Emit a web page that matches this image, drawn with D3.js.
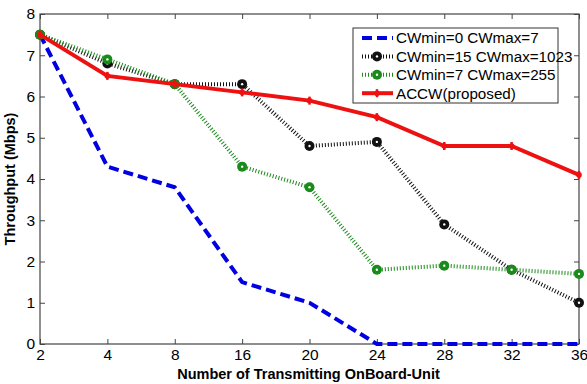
<!DOCTYPE html>
<html lang="en">
<head>
  <meta charset="UTF-8">
  <title>Throughput</title>
  <script src="https://d3js.org/d3.v7.min.js"></script>
  <style>
    body { margin: 0; background: #fff; }
    text { font-family: Arial, "Liberation Sans", sans-serif; }
  </style>
</head>
<body>
  <div id="chart"></div>
  <script>
    // Data
    const nodes = ["2", "4", "8", "16", "20", "24", "28", "32", "36"];
    const cw0_7 = [7.5, 4.3, 3.8, 1.5, 1.0, 0, 0, 0, 0];
    const cw15_1023 = [7.5, 6.8, 6.3, 6.3, 4.8, 4.9, 2.9, 1.8, 1.0];
    const cw7_255 = [7.5, 6.9, 6.3, 4.3, 3.8, 1.8, 1.9, 1.8, 1.7];
    const accw = [7.5, 6.5, 6.3, 6.1, 5.9, 5.5, 4.8, 4.8, 4.1];
    const yTicks = [0, 1, 2, 3, 4, 5, 6, 7, 8];

    const W = 587, H = 384;
    const margin = { top: 14, right: 8, bottom: 40, left: 40 };
    const width = W - margin.left - margin.right;
    const height = H - margin.top - margin.bottom;

    const svg = d3.select("#chart").append("svg")
      .attr("width", W).attr("height", H);
    const g = svg.append("g").attr("transform", `translate(${margin.left},${margin.top})`);

    const x = d3.scalePoint().domain(nodes).range([0, width]);
    const y = d3.scaleLinear().domain([0, 8]).range([height, 0]);

    // box
    g.append("rect").attr("width", width).attr("height", height)
      .attr("fill", "none").attr("stroke", "#444").attr("stroke-width", 1.2);

    // inward ticks on all sides (matlab style)
    const tickLen = 5;
    const axB = g.append("g").attr("transform", `translate(0,${height})`)
      .call(d3.axisBottom(x).tickSizeInner(-tickLen).tickSizeOuter(0).tickPadding(7));
    const axT = g.append("g")
      .call(d3.axisTop(x).tickSizeInner(-tickLen).tickSizeOuter(0).tickFormat(""));
    const axL = g.append("g")
      .call(d3.axisLeft(y).tickValues(yTicks).tickSizeInner(-tickLen).tickSizeOuter(0).tickPadding(5));
    const axR = g.append("g").attr("transform", `translate(${width},0)`)
      .call(d3.axisRight(y).tickValues(yTicks).tickSizeInner(-tickLen).tickSizeOuter(0).tickFormat(""));
    [axB, axT, axL, axR].forEach(a => {
      a.select(".domain").remove();
      a.selectAll("line").attr("stroke", "#444");
      a.selectAll("text").attr("font-size", 15.5).attr("fill", "#000")
        .style("font-family", "Arial, 'Liberation Sans', sans-serif");
    });
    axB.selectAll("text").attr("dy", "0.6em");

    const line = d3.line().x((d, i) => x(nodes[i])).y(d => y(d));

    const series = [
      { name: "CWmin=0 CWmax=7", values: cw0_7, color: "#0000e0", dash: "10,5", width: 4, marker: null },
      { name: "CWmin=15 CWmax=1023", values: cw15_1023, color: "#111", dash: "1,2", width: 4, marker: "circle" },
      { name: "CWmin=7 CWmax=255", values: cw7_255, color: "#1a8a1a", dash: "1,2", width: 4, marker: "circle" },
      { name: "ACCW(proposed)", values: accw, color: "#ee1111", dash: null, width: 4, marker: "plus" }
    ];

    function drawMarker(sel, s, cx, cy) {
      if (s.marker === "circle") {
        sel.append("circle").attr("cx", cx).attr("cy", cy).attr("r", 5)
          .attr("fill", s.color);
        sel.append("circle").attr("cx", cx).attr("cy", cy).attr("r", 1.2)
          .attr("fill", "#fff");
      } else if (s.marker === "plus") {
        sel.append("line").attr("x1", cx).attr("x2", cx).attr("y1", cy - 4).attr("y2", cy + 4)
          .attr("stroke", s.color).attr("stroke-width", 2.5);
        sel.append("circle").attr("cx", cx).attr("cy", cy).attr("r", 2.8).attr("fill", s.color);
      }
    }

    series.forEach(s => {
      g.append("path").datum(s.values)
        .attr("d", line).attr("fill", "none")
        .attr("stroke", s.color).attr("stroke-width", s.width)
        .attr("stroke-dasharray", s.dash);
      const mg = g.append("g");
      s.values.forEach((v, i) => drawMarker(mg, s, x(nodes[i]), y(v)));
    });

    // legend
    const lx = 313, ly = 14, lw = 205, lh = 75;
    const leg = g.append("g").attr("transform", `translate(${lx},${ly})`);
    leg.append("rect").attr("width", lw).attr("height", lh)
      .attr("fill", "#fff").attr("stroke", "#333").attr("stroke-width", 1);
    series.forEach((s, i) => {
      const yy = 10 + i * 18.4;
      leg.append("line").attr("x1", 9).attr("x2", 40).attr("y1", yy).attr("y2", yy)
        .attr("stroke", s.color).attr("stroke-width", s.width).attr("stroke-dasharray", s.dash);
      drawMarker(leg, s, 24, yy);
      leg.append("text").attr("x", 43).attr("y", yy).attr("dy", "0.35em")
        .attr("font-size", 15.2).text(s.name);
    });

    // axis titles
    svg.append("text").attr("x", margin.left + width / 2 - 1).attr("y", H - 5)
      .attr("text-anchor", "middle").attr("font-size", 14.5).attr("font-weight", "bold")
      .text("Number of Transmitting OnBoard-Unit");
    svg.append("text").attr("transform", `translate(15,${margin.top + height / 2}) rotate(-90)`)
      .attr("text-anchor", "middle").attr("font-size", 14.5).attr("font-weight", "bold")
      .text("Throughput (Mbps)");
  </script>
</body>
</html>
